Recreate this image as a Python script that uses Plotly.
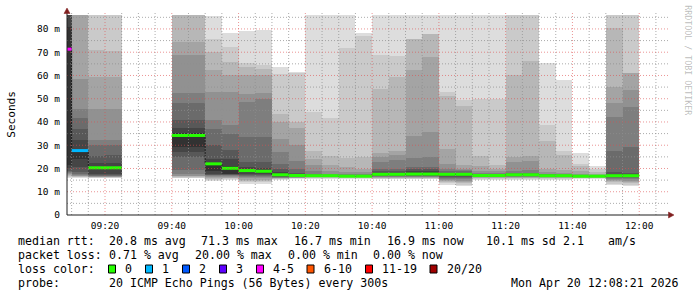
import plotly.graph_objects as go
from datetime import datetime, timedelta

# ---------------- data ----------------
DAY = "2026-04-20"
col_starts = ["09:05", "09:10", "09:15", "09:20",
              "09:40", "09:45", "09:50", "09:55", "10:00", "10:05", "10:10", "10:15",
              "10:20", "10:25", "10:30", "10:35", "10:40", "10:45", "10:50", "10:55",
              "11:00", "11:05", "11:10", "11:15", "11:20", "11:25", "11:30", "11:35",
              "11:40", "11:45", "11:50", "11:55"]

# 20 sorted ping RTTs (ms) per 5-minute step (90 = above the graph top)
smoke_0905 = [16.0, 16.4, 16.8, 17.2, 17.6, 18.0, 18.5, 19.0, 20.0, 21.5, 81.0, 90, 90, 90, 90, 90, 90, 90, 90, 90]
smoke_0910 = [16.0, 16.2, 16.4, 16.6, 16.9, 17.3, 17.8, 18.5, 20.6, 24.2, 27.8, 32.1, 37.1, 41.7, 45.7, 58.6, 90, 90, 90, 90]
smoke_0915 = [15.9, 16.1, 16.2, 16.3, 16.5, 16.7, 16.9, 17.2, 17.8, 20.0, 20.8, 22.5, 25.4, 30.0, 32.1, 45.7, 59.3, 70.8, 90, 90]
smoke_0920 = [15.9, 16.1, 16.2, 16.3, 16.5, 16.7, 16.9, 17.2, 17.8, 20.0, 20.8, 22.5, 25.6, 30.0, 32.3, 45.7, 59.3, 70.6, 90, 90]
smoke_0940 = [15.8, 16.0, 16.3, 16.6, 16.9, 17.6, 19.3, 25.1, 27.2, 29.4, 35.1, 37.3, 40.8, 48.0, 52.3, 68.8, 74.5, 90, 90, 90]
smoke_0945 = [15.8, 16.0, 16.3, 16.6, 16.9, 17.6, 19.3, 25.1, 27.2, 29.4, 35.1, 37.3, 40.8, 48.0, 52.3, 68.8, 74.5, 90, 90, 90]
smoke_0950 = [14.6, 15.0, 15.5, 15.9, 16.5, 16.9, 17.1, 17.3, 17.6, 18.8, 22.1, 24.2, 30.0, 37.1, 40.7, 52.9, 62.2, 70.1, 75.8, 85.5]
smoke_0955 = [14.9, 15.3, 15.7, 16.1, 16.5, 16.8, 17.0, 17.2, 17.5, 17.8, 21.1, 24.2, 27.8, 35.0, 38.5, 52.9, 60.0, 65.8, 72.2, 78.4]
smoke_1000 = [13.5, 14.0, 14.6, 15.2, 15.8, 16.3, 16.8, 17.3, 17.8, 18.5, 19.3, 20.6, 22.8, 33.5, 48.6, 52.2, 60.0, 63.6, 65.5, 79.0]
smoke_1005 = [13.5, 14.0, 14.6, 15.2, 15.8, 16.3, 16.7, 17.1, 17.5, 18.2, 19.0, 20.3, 22.8, 33.5, 50.0, 52.5, 60.0, 62.8, 64.5, 79.4]
smoke_1010 = [15.0, 15.3, 15.5, 15.7, 15.9, 16.1, 16.3, 16.5, 16.7, 16.9, 17.6, 18.5, 19.9, 22.1, 27.1, 32.8, 40.0, 43.6, 60.8, 63.6]
smoke_1015 = [15.6, 15.7, 15.8, 15.9, 16.0, 16.2, 16.4, 16.6, 16.8, 16.9, 17.2, 17.6, 18.2, 19.9, 23.1, 30.2, 37.4, 40.0, 61.0, 61.5]
smoke_1020 = [15.6, 15.8, 16.0, 16.2, 16.3, 16.4, 16.5, 16.6, 16.7, 16.8, 16.9, 17.1, 17.3, 17.6, 18.8, 21.4, 24.2, 27.4, 44.3, 90]
smoke_1025 = [15.6, 15.8, 16.0, 16.2, 16.3, 16.4, 16.5, 16.6, 16.7, 16.8, 16.9, 17.0, 17.2, 17.4, 17.6, 18.8, 21.4, 25.4, 41.7, 90]
smoke_1030 = [15.6, 15.8, 16.0, 16.2, 16.3, 16.4, 16.5, 16.6, 16.7, 16.8, 16.9, 17.0, 17.1, 17.3, 17.6, 18.5, 20.6, 24.5, 71.8, 90]
smoke_1035 = [15.6, 15.8, 16.0, 16.2, 16.3, 16.4, 16.5, 16.6, 16.7, 16.8, 16.9, 17.0, 17.1, 17.3, 17.6, 18.5, 19.9, 25.0, 77.0, 78.4]
smoke_1040 = [15.3, 15.6, 15.9, 16.1, 16.3, 16.5, 16.7, 16.9, 17.1, 17.3, 17.6, 18.0, 18.8, 19.9, 22.8, 25.0, 26.8, 54.3, 68.6, 90]
smoke_1045 = [15.3, 15.6, 15.9, 16.1, 16.3, 16.5, 16.7, 16.9, 17.1, 17.3, 17.6, 18.0, 18.8, 19.9, 23.5, 25.7, 27.4, 59.3, 68.5, 90]
smoke_1050 = [15.3, 15.6, 15.9, 16.1, 16.3, 16.5, 16.7, 16.9, 17.2, 17.5, 18.2, 19.0, 19.6, 20.6, 24.5, 34.0, 62.2, 75.5, 75.8, 90]
smoke_1055 = [15.3, 15.6, 15.9, 16.1, 16.3, 16.5, 16.7, 16.9, 17.2, 17.5, 18.2, 19.0, 19.6, 20.6, 25.0, 35.7, 67.9, 77.8, 78.0, 90]
smoke_1100 = [13.0, 13.6, 14.0, 14.5, 15.0, 15.5, 16.0, 16.5, 16.9, 17.2, 17.5, 17.8, 18.2, 18.8, 19.9, 22.1, 28.5, 51.2, 52.9, 90]
smoke_1105 = [12.5, 13.0, 13.6, 14.2, 14.8, 15.4, 16.0, 16.5, 16.9, 17.2, 17.5, 17.8, 18.2, 18.8, 19.4, 19.9, 21.4, 46.9, 49.3, 90]
smoke_1110 = [14.9, 15.3, 15.7, 16.0, 16.3, 16.5, 16.7, 16.8, 16.9, 17.0, 17.1, 17.3, 17.5, 17.8, 18.2, 18.8, 21.0, 25.4, 49.7, 90]
smoke_1115 = [14.9, 15.3, 15.7, 16.0, 16.3, 16.5, 16.7, 16.8, 16.9, 17.0, 17.1, 17.3, 17.5, 17.8, 18.0, 18.8, 19.9, 21.6, 49.7, 90]
smoke_1120 = [14.9, 15.3, 15.7, 16.0, 16.3, 16.5, 16.7, 16.9, 17.0, 17.1, 17.3, 17.5, 17.8, 18.2, 18.8, 22.8, 25.0, 60.0, 90, 90]
smoke_1125 = [14.9, 15.3, 15.7, 16.0, 16.3, 16.5, 16.7, 16.9, 17.0, 17.1, 17.3, 17.5, 17.8, 18.2, 19.2, 23.2, 25.4, 66.1, 90, 90]
smoke_1130 = [14.9, 15.3, 15.7, 16.0, 16.3, 16.5, 16.7, 16.8, 16.9, 17.0, 17.1, 17.2, 17.4, 17.6, 17.8, 18.5, 19.9, 31.7, 38.8, 65.3]
smoke_1135 = [14.9, 15.3, 15.7, 16.0, 16.3, 16.5, 16.7, 16.8, 16.9, 17.0, 17.1, 17.2, 17.3, 17.4, 17.6, 17.9, 19.2, 25.7, 27.4, 57.9]
smoke_1140 = [15.6, 15.8, 16.0, 16.1, 16.2, 16.3, 16.4, 16.5, 16.6, 16.7, 16.8, 16.9, 17.0, 17.1, 17.3, 17.6, 18.8, 21.1, 22.1, 26.7]
smoke_1145 = [15.6, 15.8, 16.0, 16.1, 16.2, 16.3, 16.4, 16.5, 16.6, 16.7, 16.8, 16.9, 17.0, 17.1, 17.2, 17.4, 17.7, 18.5, 19.9, 21.1]
smoke_1150 = [13.0, 13.5, 14.0, 14.5, 15.0, 15.5, 16.0, 16.4, 16.7, 16.9, 17.4, 17.8, 18.7, 27.7, 42.3, 48.0, 55.2, 80.2, 90, 90]
smoke_1155 = [12.5, 13.0, 13.6, 14.2, 14.8, 15.4, 16.0, 16.4, 16.7, 16.9, 17.3, 17.6, 18.0, 29.4, 46.6, 53.8, 60.9, 61.0, 90, 90]

median_rtt = [71.3, 27.7, 20.3, 20.3,
              34.2, 34.2, 22.0, 20.1, 19.1, 18.8, 17.3, 17.0,
              16.9, 16.9, 16.7, 16.7, 17.5, 17.5, 17.6, 17.6,
              17.5, 17.5, 17.0, 17.0, 17.3, 17.3, 16.9, 16.9,
              16.7, 16.7, 16.9, 16.9]
loss_count = [4, 1, 0, 0] + [0] * 28

loss_labels = ["0", "1", "2", "3", "4-5", "6-10", "11-19", "20/20"]
loss_upper = [0, 1, 2, 3, 5, 10, 19, 20]
loss_colors = ["#26ff00", "#00b8ff", "#0059ff", "#5e00ff", "#ff00ff", "#ff5500", "#ff0000", "#a00000"]

y_tick_vals = [0, 10, 20, 30, 40, 50, 60, 70, 80]
y_tick_text = ["0", "10 m", "20 m", "30 m", "40 m", "50 m", "60 m", "70 m", "80 m"]
x_tick_text = ["09:20", "09:40", "10:00", "10:20", "10:40", "11:00", "11:20", "11:40", "12:00"]

rtt_stats = ["20.8 ms avg", "71.3 ms max", "16.7 ms min", "16.9 ms now", "10.1 ms sd", "2.1", "am/s"]
loss_stats = ["0.71 % avg", "20.00 % max", "0.00 % min", "0.00 % now"]
probe_text = "20 ICMP Echo Pings (56 Bytes) every 300s"
stamp_text = "Mon Apr 20 12:08:21 2026"

smoke_columns = [smoke_0905, smoke_0910, smoke_0915, smoke_0920, smoke_0940, smoke_0945,
                 smoke_0950, smoke_0955, smoke_1000, smoke_1005, smoke_1010, smoke_1015,
                 smoke_1020, smoke_1025, smoke_1030, smoke_1035, smoke_1040, smoke_1045,
                 smoke_1050, smoke_1055, smoke_1100, smoke_1105, smoke_1110, smoke_1115,
                 smoke_1120, smoke_1125, smoke_1130, smoke_1135, smoke_1140, smoke_1145,
                 smoke_1150, smoke_1155]

# ---------------- helpers ----------------
def t(hm):
    return datetime.strptime(DAY + " " + hm, "%Y-%m-%d %H:%M")

STEP = timedelta(minutes=5)
STEP_MS = 300000
X0 = datetime(2026, 4, 20, 9, 8, 37)
X1 = X0 + timedelta(hours=3)
Y_TOP = 86

L, R, T, B = 67, 29, 15, 82
W, H = 697, 297
PW, PH = W - L - R, H - T - B

def px(x):
    return (x - L) / PW

def py(y):
    return (T + PH - y) / PH

fig = go.Figure()

# ---------------- smoke ----------------
for k in range(19):
    ibot = min(k + 1, 19 - k)
    c = int(190 / 10 * (10 - ibot)) + 50
    xs, bases, hs = [], [], []
    for st, pings in zip(col_starts, smoke_columns):
        xs.append(t(st) + STEP / 2)
        bases.append(pings[k])
        hs.append(pings[k + 1] - pings[k])
    fig.add_trace(go.Bar(x=xs, y=hs, base=bases, width=STEP_MS,
                         marker=dict(color=f"rgb({c},{c},{c})", line=dict(width=0)),
                         hoverinfo="skip", showlegend=False))

# ---------------- thin median step line ----------------
lx, ly = [], []
prev, prev_m = None, None
for st, m in zip(col_starts, median_rtt):
    ts = t(st)
    if prev is not None and ts - prev > STEP:
        lx += [prev + STEP, prev + STEP]
        ly += [prev_m, None]
    lx.append(ts)
    ly.append(m)
    prev, prev_m = ts, m
lx.append(prev + STEP)
ly.append(prev_m)
fig.add_trace(go.Scatter(x=lx, y=ly, mode="lines", line=dict(color="#202020", width=1, shape="hv"),
                         hoverinfo="skip", showlegend=False, connectgaps=False))

# ---------------- median bands coloured by loss ----------------
def loss_cat(n):
    for i, u in enumerate(loss_upper):
        if n <= u:
            return i
    return len(loss_upper) - 1

for ci, col in enumerate(loss_colors):
    xs, ys = [], []
    for st, m, n in zip(col_starts, median_rtt, loss_count):
        if loss_cat(n) == ci:
            xs += [t(st), t(st) + STEP, None]
            ys += [m, m, None]
    if xs:
        fig.add_trace(go.Scatter(x=xs, y=ys, mode="lines",
                                 line=dict(color=col, width=3),
                                 hoverinfo="skip", showlegend=False, connectgaps=False))

# ---------------- grid (drawn above, like rrdtool) ----------------
shapes = []
minor_col = "rgba(143,143,143,0.75)"
major_col = "rgba(222,79,79,0.6)"
gx = t("09:10")
while gx <= X1:
    major = gx.minute % 20 == 0
    shapes.append(dict(type="line", xref="x", yref="paper", x0=gx, x1=gx, y0=0, y1=1.01,
                       line=dict(color=major_col if major else minor_col, width=1, dash="1px,2px"),
                       layer="above"))
    gx += STEP
for v in range(5, Y_TOP, 5):
    major = v % 10 == 0
    shapes.append(dict(type="line", xref="paper", yref="y", x0=0, x1=px(669), y0=v, y1=v,
                       line=dict(color=major_col if major else minor_col, width=1, dash="1px,2px"),
                       layer="above"))
# axes + arrows
axis_col = "#1f1f1f"
arrow_col = "#801f1f"
shapes.append(dict(type="line", xref="paper", yref="paper", x0=0, x1=px(669), y0=0, y1=0,
                   line=dict(color=axis_col, width=1), layer="above"))
shapes.append(dict(type="line", xref="paper", yref="paper", x0=0, x1=0, y0=0, y1=py(11),
                   line=dict(color=axis_col, width=1), layer="above"))
shapes.append(dict(type="path", xref="paper", yref="paper",
                   path=f"M {px(67)},{py(8)} L {px(64)},{py(13.5)} L {px(70)},{py(13.5)} Z",
                   fillcolor=arrow_col, line=dict(color=arrow_col, width=0.5), layer="above"))
shapes.append(dict(type="path", xref="paper", yref="paper",
                   path=f"M {px(674)},{py(215)} L {px(668.5)},{py(212)} L {px(668.5)},{py(218)} Z",
                   fillcolor=arrow_col, line=dict(color=arrow_col, width=0.5), layer="above"))

# legend boxes
box_left = [108.5, 145.5, 182.5, 219.5, 256.5, 307.0, 365.5, 430.0]
for bl, col in zip(box_left, loss_colors):
    shapes.append(dict(type="rect", xref="paper", yref="paper",
                       x0=px(bl), x1=px(bl + 7), y0=py(273), y1=py(265),
                       fillcolor=col, line=dict(color="black", width=1), layer="above"))

# ---------------- annotations ----------------
MONO = "DejaVu Sans Mono"
LF = 11.6
ann = []

def txt(x, y, s, anchor="left", size=LF, color="black", angle=0):
    ann.append(dict(x=px(x), y=py(y), xref="paper", yref="paper", text=s, showarrow=False,
                    xanchor=anchor, yanchor="middle", textangle=angle,
                    font=dict(family=MONO, size=size, color=color)))

txt(10.8, 114, "Seconds", anchor="center", size=11.1, angle=-90)
txt(687.7, 60, "RRDTOOL / TOBI OETIKER", anchor="center", size=8.3, color="rgba(0,0,0,0.28)", angle=90)

row_y = [241.3, 255.3, 269.3, 283.0]
txt(16, row_y[0], "median rtt:")
for xx, s in zip([106.5, 199.0, 292.0, 385.0, 484.0, 561.0, 606.0], rtt_stats):
    txt(xx, row_y[0], s)
txt(16, row_y[1], "packet loss:")
for xx, s in zip([106.5, 192.5, 286.0, 371.0], loss_stats):
    txt(xx, row_y[1], s)
txt(16, row_y[2], "loss color:")
for bl, s in zip(box_left, loss_labels):
    txt(bl + 14.5, row_y[2], s)
txt(16, row_y[3], "probe:")
txt(106.5, row_y[3], probe_text)
txt(680.5, row_y[3], stamp_text, anchor="right")

# ---------------- layout ----------------
x_tick_vals = [t(s) for s in x_tick_text]
fig.update_layout(
    width=W, height=H,
    margin=dict(l=L, r=R, t=T, b=B, pad=0, autoexpand=False),
    paper_bgcolor="white", plot_bgcolor="white",
    barmode="overlay", bargap=0, showlegend=False,
    font=dict(family=MONO, color="black"),
    shapes=shapes, annotations=ann,
)
fig.update_xaxes(type="date", range=[X0, X1], tickvals=x_tick_vals, ticktext=x_tick_text,
                 showgrid=False, zeroline=False, showline=False, ticks="",
                 ticklabelstandoff=3,
                 tickfont=dict(family=MONO, size=9.5, color="black"), fixedrange=True)
fig.update_yaxes(range=[0, Y_TOP], tickvals=y_tick_vals, ticktext=y_tick_text,
                 showgrid=False, zeroline=False, showline=False, ticks="",
                 ticklabelstandoff=6,
                 tickfont=dict(family=MONO, size=9.5, color="black"), fixedrange=True)

fig.write_html("out.html", config={"displayModeBar": False, "staticPlot": True})
